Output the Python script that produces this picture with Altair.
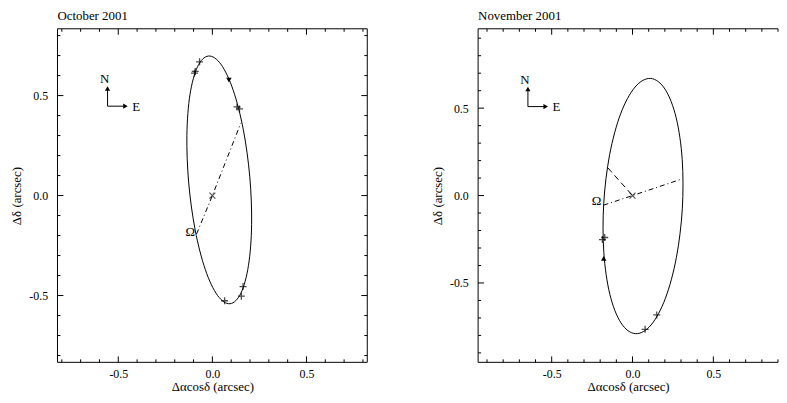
import altair as alt
import pandas as pd

FONT = "Liberation Serif"
FS = 13
LFS = 12

# ---------------- October 2001 ----------------
oct_orbit_x = [-0.0210, 0.0455, 0.1106, 0.1644, 0.1988, 0.2085, 0.1919, 0.1517,
               0.0940, 0.0275, -0.0376, -0.0914, -0.1258, -0.1355, -0.1189, -0.0787]
oct_orbit_y = [0.6978, 0.6565, 0.5271, 0.3294, 0.0936, -0.1446, -0.3488, -0.4879,
               -0.5408, -0.4995, -0.3701, -0.1724, 0.0634, 0.3016, 0.5058, 0.6449]
oct_plus_x = [-0.068, -0.091, -0.095, 0.131, 0.144, 0.163, 0.154, 0.065]
oct_plus_y = [0.669, 0.621, 0.612, 0.443, 0.433, -0.455, -0.503, -0.526]
oct_tri_x = [0.088]
oct_tri_y = [0.577]
oct_node_x = [-0.084, 0.0, 0.151]
oct_node_y = [-0.192, 0.0, 0.362]
oct_compass_x = [-0.557, -0.557, -0.462]
oct_compass_y = [0.535, 0.447, 0.447]
oct_labels = ["N", "E", "Ω"]
oct_label_x = [-0.572, -0.405, -0.117]
oct_label_y = [0.582, 0.443, -0.182]

# ---------------- November 2001 ----------------
nov_orbit_x = [0.1120, 0.2014, 0.2701, 0.3075, 0.3080, 0.2715, 0.2036, 0.1146,
               0.0180, -0.0714, -0.1401, -0.1775, -0.1780, -0.1415, -0.0736, 0.0154]
nov_orbit_y = [0.6700, 0.6084, 0.4451, 0.2049, -0.0757, -0.3539, -0.5873, -0.7404,
               -0.7900, -0.7284, -0.5651, -0.3249, -0.0443, 0.2339, 0.4673, 0.6204]
nov_plus_x = [-0.186, -0.172, 0.150, 0.078]
nov_plus_y = [-0.252, -0.240, -0.683, -0.765]
nov_tri_x = [-0.178]
nov_tri_y = [-0.359]
nov_node_x = [-0.179, 0.0, 0.306]
nov_node_y = [-0.055, 0.0, 0.095]
nov_peri_x = [-0.152, 0.0]
nov_peri_y = [0.158, 0.0]
nov_compass_x = [-0.647, -0.647, -0.537]
nov_compass_y = [0.610, 0.509, 0.509]
nov_labels = ["N", "E", "Ω"]
nov_label_x = [-0.665, -0.470, -0.222]
nov_label_y = [0.662, 0.506, -0.032]

x_title = "Δαcosδ (arcsec)"
y_title = "Δδ (arcsec)"
major_ticks = [-0.5, 0.0, 0.5]
oct_minor = [-0.8, -0.7, -0.6, -0.4, -0.3, -0.2, -0.1, 0.1, 0.2, 0.3, 0.4, 0.6, 0.7, 0.8]
nov_minor = [-0.9, -0.8, -0.7, -0.6, -0.4, -0.3, -0.2, -0.1, 0.1, 0.2, 0.3, 0.4, 0.6, 0.7, 0.8, 0.9]

LABEL_EXPR = "datum.value < -0.001 ? '-' + format(-datum.value, '.1f') : format(abs(datum.value), '.1f')"


def panel(title, xdom, ydom, W, H, minor, orbit, plus, tri, node, peri, compass,
          labels, right_frame):
    xs = alt.Scale(domain=xdom, nice=False, zero=False)
    ys = alt.Scale(domain=ydom, nice=False, zero=False)
    common = dict(values=major_ticks, labelExpr=LABEL_EXPR, ticks=False, tickSize=0,
                  domain=False, grid=False, labelFont=FONT, titleFont=FONT,
                  labelFontSize=LFS, titleFontSize=FS, titleFontWeight="normal",
                  labelColor="black", titleColor="black")
    xaxis = alt.Axis(labelPadding=6, titlePadding=1, title=x_title, labelFlush=False, **common)
    yaxis = alt.Axis(labelPadding=10, titlePadding=5, title=y_title, **common)

    def X(f="x"):
        return alt.X(f"{f}:Q", scale=xs, axis=xaxis)

    def Y(f="y"):
        return alt.Y(f"{f}:Q", scale=ys, axis=yaxis)

    layers = []
    one = pd.DataFrame({"a": [0]})
    # frame
    frame = alt.Chart(one).mark_rule(color="black", strokeWidth=1)
    layers.append(frame.encode(x=alt.value(0), x2=alt.value(W), y=alt.value(0)))
    layers.append(frame.encode(x=alt.value(0), x2=alt.value(W), y=alt.value(H)))
    layers.append(frame.encode(x=alt.value(0), y=alt.value(0), y2=alt.value(H)))
    if right_frame:
        layers.append(frame.encode(x=alt.value(W), y=alt.value(0), y2=alt.value(H)))

    # inward ticks
    for vals, L in ((major_ticks, 6), (minor, 3)):
        tx = pd.DataFrame({"x": vals})
        ty = pd.DataFrame({"y": vals})
        tr = alt.Chart(tx).mark_rule(color="black", strokeWidth=1)
        layers.append(tr.encode(x=X(), y=alt.value(0), y2=alt.value(L)))
        layers.append(tr.encode(x=X(), y=alt.value(H), y2=alt.value(H - L)))
        tyc = alt.Chart(ty).mark_rule(color="black", strokeWidth=1)
        layers.append(tyc.encode(y=Y(), x=alt.value(0), x2=alt.value(L)))
        if right_frame:
            layers.append(tyc.encode(y=Y(), x=alt.value(W), x2=alt.value(W - L)))

    # orbit
    od = pd.DataFrame({"x": orbit[0], "y": orbit[1], "i": list(range(len(orbit[0])))})
    layers.append(alt.Chart(od).mark_line(interpolate="cardinal-closed", color="black",
                                          strokeWidth=1).encode(x=X(), y=Y(), order="i:Q"))
    # line of nodes
    nd = pd.DataFrame({"x": node[0], "y": node[1], "i": [0, 1, 2]})
    layers.append(alt.Chart(nd).mark_line(color="black", strokeWidth=1,
                                          strokeDash=[5, 3, 1, 3]).encode(x=X(), y=Y(), order="i:Q"))
    if peri is not None:
        pdf = pd.DataFrame({"x": peri[0], "y": peri[1], "i": [0, 1]})
        layers.append(alt.Chart(pdf).mark_line(color="black", strokeWidth=1,
                                               strokeDash=[6, 4]).encode(x=X(), y=Y(), order="i:Q"))
    # primary
    layers.append(alt.Chart(pd.DataFrame({"x": [0.0], "y": [0.0]})).mark_point(
        shape="M-1,-1L1,1M-1,1L1,-1", size=36, filled=False, color="black", strokeWidth=1.1
    ).encode(x=X(), y=Y()))
    # data points
    layers.append(alt.Chart(pd.DataFrame({"x": plus[0], "y": plus[1]})).mark_point(
        shape="M-1,0L1,0M0,-1L0,1", size=50, filled=False, color="black", strokeWidth=1.3
    ).encode(x=X(), y=Y()))
    layers.append(alt.Chart(pd.DataFrame({"x": tri[0], "y": tri[1]})).mark_point(
        shape=tri[2], size=30, filled=True, color="black", opacity=1
    ).encode(x=X(), y=Y()))
    # compass
    cd = pd.DataFrame({"x": compass[0], "y": compass[1], "i": [0, 1, 2]})
    layers.append(alt.Chart(cd).mark_line(color="black", strokeWidth=1).encode(
        x=X(), y=Y(), order="i:Q"))
    layers.append(alt.Chart(pd.DataFrame({"x": [compass[0][0]], "y": [compass[1][0]]})).mark_point(
        shape="triangle-up", size=28, filled=True, color="black", opacity=1).encode(x=X(), y=Y()))
    layers.append(alt.Chart(pd.DataFrame({"x": [compass[0][2]], "y": [compass[1][2]]})).mark_point(
        shape="triangle-right", size=28, filled=True, color="black", opacity=1).encode(x=X(), y=Y()))
    # text labels
    ld = pd.DataFrame({"x": labels[1], "y": labels[2], "t": labels[0]})
    layers.append(alt.Chart(ld).mark_text(font=FONT, fontSize=FS, color="black",
                                          baseline="middle", align="center").encode(
        x=X(), y=Y(), text="t:N"))

    return alt.layer(*layers).properties(
        width=W, height=H,
        title=alt.TitleParams(title, anchor="start", frame="group", font=FONT, fontSize=FS,
                              fontWeight="normal", color="black", offset=5),
    )


left = panel("October 2001", [-0.823, 0.823], [-0.834, 0.834], 313, 337, oct_minor,
             (oct_orbit_x, oct_orbit_y), (oct_plus_x, oct_plus_y),
             (oct_tri_x, oct_tri_y, "triangle-down"), (oct_node_x, oct_node_y), None,
             (oct_compass_x, oct_compass_y), (oct_labels, oct_label_x, oct_label_y), True)
right = panel("November 2001", [-0.955, 0.90], [-0.954, 0.954], 303, 337, nov_minor,
              (nov_orbit_x, nov_orbit_y), (nov_plus_x, nov_plus_y),
              (nov_tri_x, nov_tri_y, "triangle-up"), (nov_node_x, nov_node_y),
              (nov_peri_x, nov_peri_y),
              (nov_compass_x, nov_compass_y), (nov_labels, nov_label_x, nov_label_y), False)

chart = alt.hconcat(left, right, spacing=64).properties(
    padding={"left": 3, "top": 0, "right": 0, "bottom": 0},
    background="white",
).configure_view(stroke=None)

chart.save("out.html", embed_options={"renderer": "svg", "actions": False})
